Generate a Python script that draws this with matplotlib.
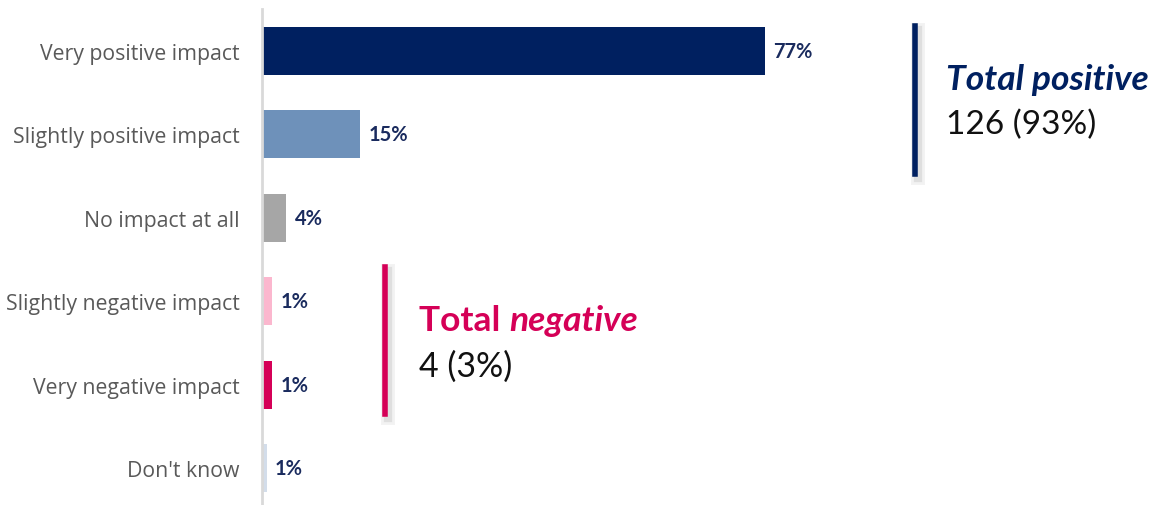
import matplotlib.pyplot as plt
import matplotlib.patheffects as pe

# categories and values (percent of respondents)
categories = ["Very positive impact", "Slightly positive impact", "No impact at all",
              "Slightly negative impact", "Very negative impact", "Don't know"]
values = [77, 15, 3.7, 1.5, 1.5, 0.7]
value_labels = ["77%", "15%", "4%", "1%", "1%", "1%"]
colors = ["#002060", "#6E91BA", "#A6A6A6", "#FBB7CE", "#D50057", "#D3DDEA"]

pos_title = "Total positive"
pos_text = "126 (93%)"
neg_text = "4 (3%)"

W, H = 1158, 506
fig = plt.figure(figsize=(W / 100, H / 100), dpi=100)
fig.patch.set_facecolor("white")

# axes placed in pixel units
ax_left, ax_top = 262, 10
ax = fig.add_axes([ax_left / W, 0, 1 - ax_left / W, 1 - ax_top / H])

y = list(range(len(categories)))
ax.barh(y, values, height=0.58, color=colors)
ax.set_ylim(5.44, -0.5)
ax.set_xlim(0, (W - ax_left) / 6.53)

for yi, v, lab in zip(y, values, value_labels):
    ax.text(v + 1.3, yi, lab, va="center", ha="left", fontsize=14.5,
            fontweight="bold", color="#1A2B5E", family="Lato")

ax.set_yticks(y)
ax.set_yticklabels(categories, fontsize=15.3, color="#595959", family="Open Sans")
ax.tick_params(axis="y", length=0, pad=16)
ax.set_xticks([])
for s in ["top", "right", "bottom"]:
    ax.spines[s].set_visible(False)
ax.spines["left"].set_color("#D9D9D9")
ax.spines["left"].set_linewidth(2)

shadow = [pe.SimpleLineShadow(offset=(2, -3), shadow_color="#000000", alpha=0.05, linewidth=10),
          pe.SimpleLineShadow(offset=(2, -3), shadow_color="#000000", alpha=0.08, linewidth=6),
          pe.Normal()]


def px(x, yy):
    return x / W, 1 - yy / H


# total positive bracket
fig.add_artist(plt.Line2D([915 / W, 915 / W], [1 - 27 / H, 1 - 175 / H],
                          color="#002060", linewidth=4, path_effects=shadow))
fig.text(*px(946, 80), pos_title, fontsize=25.5, fontweight="bold", style="italic",
         color="#002060", family="Lato", va="center", ha="left")
fig.text(*px(946, 125), pos_text, fontsize=24, color="#111111", family="Lato",
         va="center", ha="left")

# total negative bracket
fig.add_artist(plt.Line2D([385 / W, 385 / W], [1 - 268 / H, 1 - 415 / H],
                          color="#D50057", linewidth=4, path_effects=shadow))
t1 = fig.text(*px(419, 321), "Total ", fontsize=25.5, fontweight="bold",
              color="#D50057", family="Lato", va="center", ha="left")
fig.canvas.draw()
bb = t1.get_window_extent()
fig.text(bb.x1 / W, 1 - 321 / H, "negative", fontsize=25.5, fontweight="bold",
         style="italic", color="#D50057", family="Lato", va="center", ha="left")
fig.text(*px(419, 367), neg_text, fontsize=24.5, color="#111111", family="Lato",
         va="center", ha="left")

fig.savefig("out.png", dpi=100)
